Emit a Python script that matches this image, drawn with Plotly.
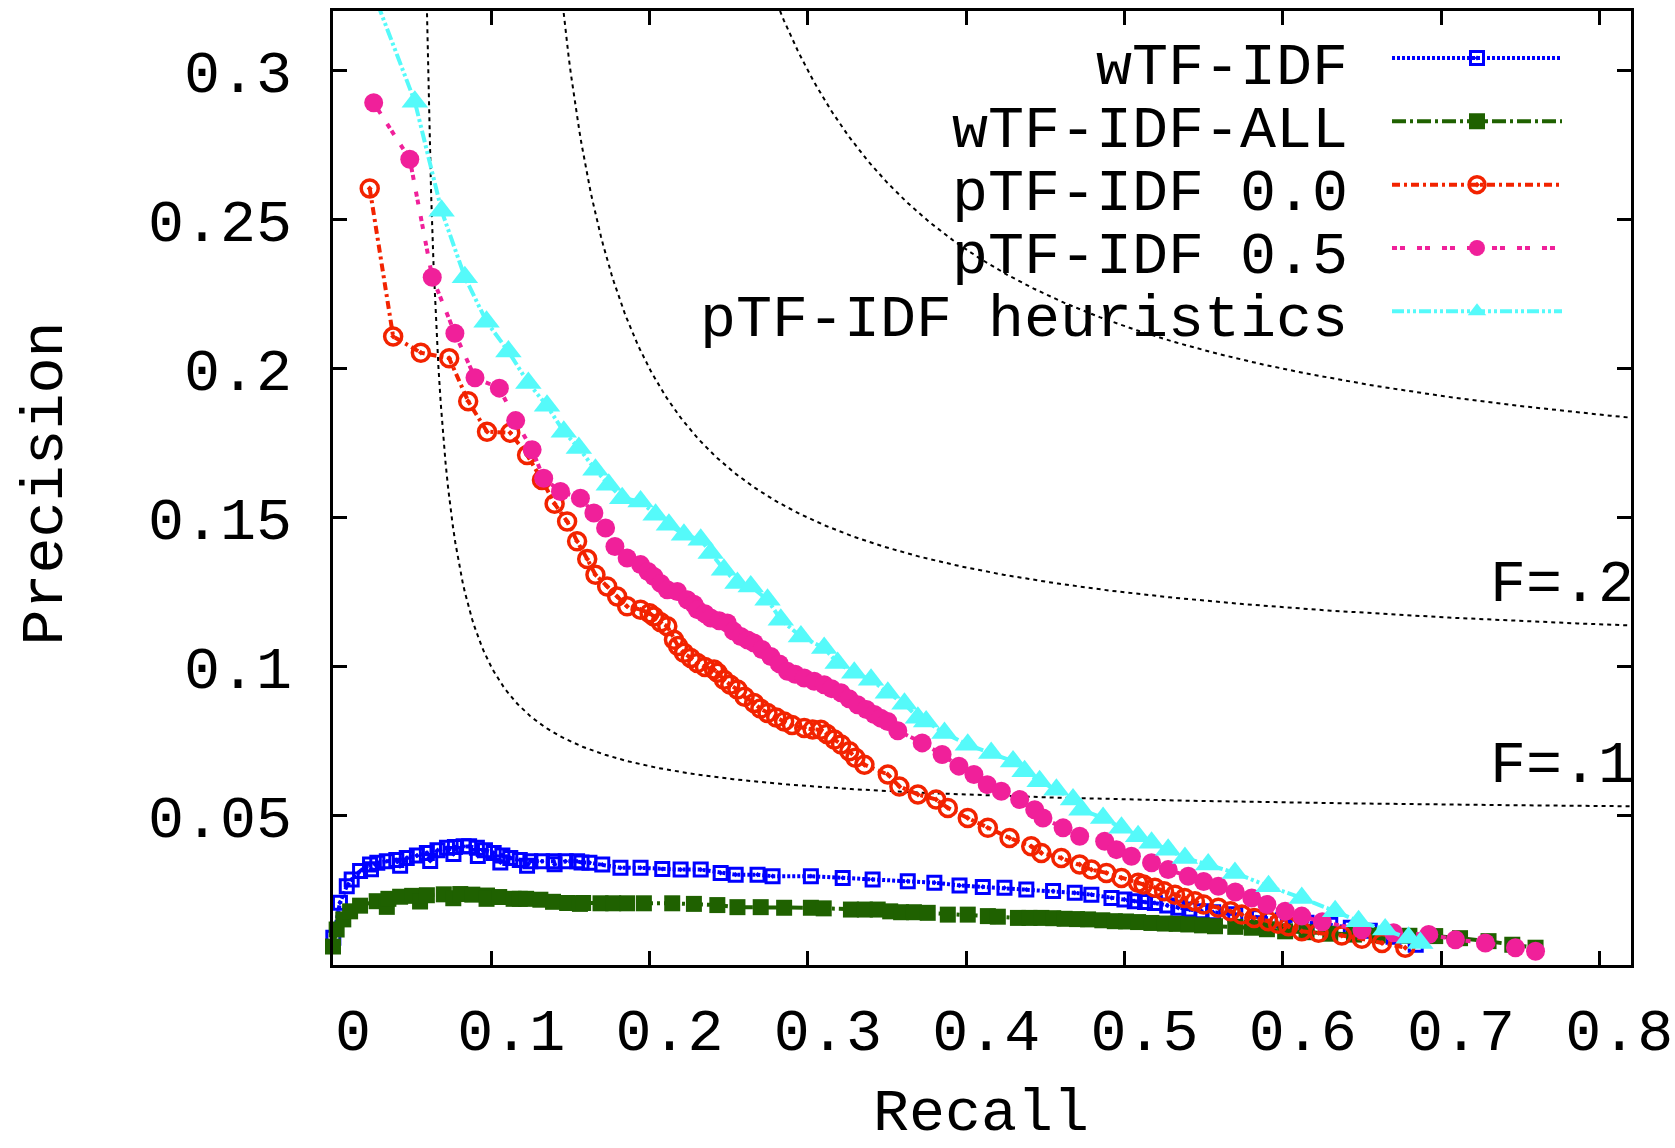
import numpy as np
import plotly.graph_objects as go

FONT = "Liberation Mono"

# ---------------- data ----------------
labels = ["wTF-IDF", "wTF-IDF-ALL", "pTF-IDF 0.0", "pTF-IDF 0.5", "pTF-IDF heuristics"]

recall_wtfidf = [0.0002, 0.0044, 0.0087, 0.0118, 0.0171, 0.0234, 0.024, 0.028, 0.034, 0.040, 0.0424,
                 0.0466, 0.053, 0.0593, 0.0614, 0.066, 0.072, 0.0761, 0.077, 0.0825, 0.086, 0.0909,
                 0.0915, 0.096, 0.1015, 0.1057, 0.107, 0.112, 0.118, 0.1226, 0.1247, 0.132, 0.1394,
                 0.140, 0.147, 0.1542, 0.157, 0.162, 0.1701, 0.1816, 0.1943, 0.208, 0.2196,
                 0.2323, 0.2449, 0.2544, 0.2682, 0.2777, 0.3019, 0.322, 0.3409, 0.3631, 0.3799, 0.3958,
                 0.4105, 0.4242, 0.438, 0.4549, 0.4686, 0.4791, 0.4918, 0.500, 0.5065, 0.513, 0.5192,
                 0.527, 0.534, 0.541, 0.5487, 0.556, 0.570, 0.585, 0.600, 0.615, 0.630, 0.643, 0.655,
                 0.670, 0.684]
prec_wtfidf = [0.0091, 0.0209, 0.0264, 0.0287, 0.0315, 0.0337, 0.0321, 0.0343, 0.0348, 0.0352, 0.0333,
               0.0359, 0.0367, 0.0376, 0.0349, 0.0385, 0.0393, 0.0372, 0.0396, 0.0398, 0.0398, 0.0393,
               0.0366, 0.0385, 0.0376, 0.0344, 0.0367, 0.0359, 0.0352, 0.0333, 0.0348, 0.0348, 0.0348,
               0.0338, 0.0348, 0.0348, 0.0344, 0.0343, 0.0337, 0.0326, 0.0326, 0.0322, 0.032,
               0.032, 0.0309, 0.0303, 0.0303, 0.0298, 0.0298, 0.0292, 0.0287, 0.0281, 0.0276, 0.0267,
               0.0262, 0.0259, 0.0253, 0.0248, 0.0242, 0.0236, 0.0225, 0.022, 0.0214, 0.0211, 0.0208,
               0.0200, 0.0192, 0.0186, 0.018, 0.0177, 0.017, 0.016, 0.015, 0.0142, 0.0135, 0.0125, 0.0115,
               0.0095, 0.0068]

recall_wtfidf_all = [0.0, 0.0023, 0.0065, 0.0108, 0.0171, 0.0276, 0.034, 0.035, 0.0424, 0.050, 0.055,
                     0.0593, 0.070, 0.076, 0.0804, 0.088, 0.0973, 0.097, 0.105, 0.1141, 0.118, 0.122,
                     0.131, 0.139, 0.1479, 0.156, 0.158, 0.169,
                     0.177, 0.1858, 0.1964, 0.2143, 0.228, 0.2428, 0.2555, 0.2702, 0.285, 0.3019, 0.310,
                     0.3272, 0.336, 0.3441, 0.352, 0.3589, 0.367, 0.3757, 0.3884, 0.401, 0.4137, 0.420,
                     0.4327, 0.440, 0.4475, 0.455, 0.4622, 0.470, 0.477, 0.486, 0.4939, 0.501, 0.5086,
                     0.517, 0.5255, 0.533, 0.5403, 0.549, 0.5572, 0.570, 0.5804, 0.590, 0.6015, 0.615,
                     0.630, 0.645, 0.660, 0.680, 0.6963, 0.712, 0.730, 0.745, 0.7597]
prec_wtfidf_all = [0.0062, 0.0119, 0.0153, 0.018, 0.0199, 0.0214, 0.0195, 0.0222, 0.0229, 0.0232, 0.0213,
                   0.0234, 0.0237, 0.0224, 0.0238, 0.0236, 0.0233, 0.0222, 0.0228, 0.0222, 0.0222, 0.0222,
                   0.0219, 0.0212, 0.0208, 0.0205, 0.0208, 0.0207,
                   0.0207, 0.0207, 0.0207, 0.0207, 0.0205, 0.0201, 0.0194, 0.0194, 0.0192, 0.0192, 0.019,
                   0.0186, 0.0186, 0.0186, 0.018, 0.0177, 0.0177, 0.0175, 0.0169, 0.0169, 0.0164, 0.0162,
                   0.0158, 0.0158, 0.0158, 0.0157, 0.0155, 0.0154, 0.0153, 0.015, 0.0147, 0.0146, 0.0144,
                   0.0141, 0.0139, 0.0138, 0.0136, 0.0133, 0.013, 0.0128, 0.0125, 0.012, 0.0113, 0.011,
                   0.0105, 0.0102, 0.0100, 0.0098, 0.0097, 0.009, 0.008, 0.0068, 0.0058]

recall_ptfidf_00 = [0.0232, 0.038, 0.0555, 0.0734, 0.0854, 0.0973, 0.112, 0.1226, 0.132, 0.14, 0.1479,
                    0.1542, 0.1606, 0.1658, 0.1732, 0.1795, 0.1858, 0.1943, 0.200, 0.2027, 0.207, 0.2112,
                    0.2154, 0.218, 0.2217, 0.226, 0.2302, 0.235, 0.2407, 0.243, 0.247, 0.251, 0.2555,
                    0.260, 0.266, 0.270, 0.2745, 0.280, 0.285, 0.290, 0.2977, 0.303, 0.3082, 0.312,
                    0.3167, 0.321, 0.3262, 0.330, 0.3357, 0.3505, 0.3578, 0.3695, 0.381, 0.3884, 0.401,
                    0.4137, 0.4274, 0.4411, 0.4475, 0.4601, 0.4717, 0.4791, 0.4886, 0.4981, 0.5086,
                    0.512, 0.5192, 0.525, 0.5319, 0.538, 0.5445, 0.550, 0.5593, 0.567, 0.5741, 0.582,
                    0.5909, 0.597, 0.6036, 0.612, 0.6226, 0.6373, 0.65, 0.6627, 0.6774]
prec_ptfidf_00 = [0.2605, 0.2108, 0.2054, 0.2035, 0.1891, 0.1789, 0.1785, 0.1711, 0.1627, 0.1547, 0.1488,
                  0.1421, 0.1362, 0.1309, 0.127, 0.1236, 0.1203, 0.1192, 0.118, 0.1169, 0.115, 0.1136,
                  0.1091, 0.107, 0.1047, 0.103, 0.1013, 0.100, 0.0991, 0.098, 0.0957, 0.094, 0.0924,
                  0.090, 0.0879, 0.086, 0.0845, 0.083, 0.0817, 0.0805, 0.0795, 0.079, 0.0789, 0.0775,
                  0.0756, 0.074, 0.0717, 0.0695, 0.0672, 0.0639, 0.0599, 0.0572, 0.0555, 0.0527, 0.0493,
                  0.046, 0.0426, 0.0398, 0.0376, 0.0359, 0.0337, 0.032, 0.0309, 0.0292, 0.0276,
                  0.027, 0.0259, 0.0247, 0.0236, 0.0225, 0.0214, 0.0203, 0.0192, 0.018, 0.0169, 0.0158,
                  0.0147, 0.0138, 0.013, 0.0113, 0.0108, 0.0099, 0.0088, 0.0074, 0.0058]

recall_ptfidf_05 = [0.0257, 0.0485, 0.0627, 0.077, 0.0897, 0.1051, 0.1154, 0.1258, 0.1331, 0.1437, 0.1563,
                    0.1648, 0.1722, 0.1781, 0.1858, 0.1943, 0.199, 0.2027, 0.207, 0.2112, 0.2175, 0.2238,
                    0.228, 0.2302, 0.235, 0.2386, 0.244, 0.2491, 0.253, 0.2576, 0.262, 0.266, 0.271,
                    0.2766, 0.282, 0.2871, 0.292, 0.2977, 0.304, 0.3103, 0.315, 0.3209, 0.326, 0.3314,
                    0.337, 0.342, 0.346, 0.3505, 0.3568, 0.3722, 0.3848, 0.3954, 0.4049, 0.4133, 0.4222,
                    0.4338, 0.4433, 0.4485, 0.4612, 0.4717, 0.4875, 0.4949, 0.5044, 0.5171, 0.5276,
                    0.5403, 0.550, 0.5593, 0.570, 0.5804, 0.590, 0.6015, 0.612, 0.625, 0.650, 0.670,
                    0.6922, 0.7091, 0.728, 0.747, 0.7597]
prec_ptfidf_05 = [0.2892, 0.2703, 0.2307, 0.2119, 0.197, 0.1935, 0.1826, 0.1728, 0.1633, 0.1588, 0.1566,
                  0.1516, 0.1466, 0.1404, 0.1365, 0.1343, 0.132, 0.1303, 0.128, 0.1259, 0.1253, 0.1225,
                  0.121, 0.1192, 0.1178, 0.1164, 0.1155, 0.1147, 0.112, 0.1102, 0.109, 0.108, 0.1058,
                  0.1035, 0.101, 0.0985, 0.0975, 0.0963, 0.0952, 0.094, 0.0927, 0.0913, 0.0893, 0.0873,
                  0.0857, 0.084, 0.0828, 0.0817, 0.0786, 0.0745, 0.0706, 0.0667, 0.0639, 0.0605, 0.0583,
                  0.0555, 0.0521, 0.0493, 0.046, 0.0432, 0.0415, 0.0387, 0.0365, 0.0343, 0.032,
                  0.0298, 0.028, 0.0264, 0.0245, 0.0225, 0.0203, 0.018, 0.0164, 0.0145, 0.0118, 0.0108,
                  0.0102, 0.0085, 0.0074, 0.0058, 0.0046]

recall_heuristics = [0.022, 0.0517, 0.0686, 0.0833, 0.097, 0.1108, 0.1234, 0.1352, 0.1458, 0.1553, 0.1658,
                     0.1742, 0.1827, 0.1943, 0.2038, 0.2122, 0.2217, 0.2323, 0.2386, 0.247, 0.2555, 0.2639,
                     0.2745, 0.2829, 0.2956, 0.3103, 0.3188, 0.3293, 0.3399, 0.3505, 0.361, 0.3695, 0.3747,
                     0.3863, 0.401, 0.4158, 0.4296, 0.4369, 0.4464, 0.457, 0.4675, 0.4728, 0.4865, 0.4981,
                     0.5086, 0.5171, 0.5276, 0.5382, 0.5529, 0.5698, 0.591, 0.612, 0.6331, 0.6479, 0.6647,
                     0.6795, 0.6869]
prec_heuristics = [0.331, 0.2896, 0.253, 0.2307, 0.2158, 0.2058, 0.1952, 0.1876, 0.1789, 0.1734, 0.1661,
                   0.1611, 0.1566, 0.1555, 0.151, 0.1477, 0.1443, 0.1426, 0.1382, 0.1326, 0.1281, 0.127,
                   0.1225, 0.1158, 0.1102, 0.1063, 0.1013, 0.098, 0.0957, 0.0913, 0.0876, 0.0829, 0.0817,
                   0.0778, 0.0739, 0.0711, 0.0683, 0.065, 0.0616, 0.0588, 0.0555, 0.0521, 0.0493, 0.046,
                   0.0432, 0.041, 0.0387, 0.0359, 0.0337, 0.0309, 0.0264, 0.0225, 0.018, 0.0147, 0.0119,
                   0.0091, 0.0074]

# F-measure iso-lines drawn in the background
f_levels = [0.1, 0.2, 0.3]
f_labels = ["F=.1", "F=.2"]

x_tickvals = [0, 0.1, 0.2, 0.3, 0.4, 0.5, 0.6, 0.7, 0.8]
x_ticktext = ["0", "0.1", "0.2", "0.3", "0.4", "0.5", "0.6", "0.7", "0.8"]
y_tickvals = [0.05, 0.1, 0.15, 0.2, 0.25, 0.3]
y_ticktext = ["0.05", "0.1", "0.15", "0.2", "0.25", "0.3"]

X_RANGE = [0, 0.82]
Y_RANGE = [0, 0.32]

# ---------------- figure ----------------
fig = go.Figure()

for f in f_levels:
    p_top = Y_RANGE[1] + 0.01
    r_start = p_top * f / (2 * p_top - f)
    r = np.linspace(r_start, X_RANGE[1], 500)
    p = f * r / (2 * r - f)
    fig.add_trace(go.Scatter(x=r, y=p, mode="lines", showlegend=False, hoverinfo="skip",
                             line=dict(color="black", width=2, dash="4px,4px")))

styles = [
    dict(r=recall_wtfidf, p=prec_wtfidf, color="#0000FF", symbol="square-open-dot", size=13,
         lw=3, dash="3px,2px", clip=False),
    dict(r=recall_wtfidf_all, p=prec_wtfidf_all, color="#1F6100", symbol="square", size=16,
         lw=0, dash="14px,4px,3px,4px", clip=False),
    dict(r=recall_ptfidf_00, p=prec_ptfidf_00, color="#F22300", symbol="circle-open-dot", size=17,
         lw=3.5, dash="8px,4px,3px,4px", clip=True),
    dict(r=recall_ptfidf_05, p=prec_ptfidf_05, color="#F0209A", symbol="circle", size=19,
         lw=0, dash="5px,3px,5px,12px", clip=True),
    dict(r=recall_heuristics, p=prec_heuristics, color="#55FAFA", symbol="triangle-up", size=23,
         lw=0, dash="12px,3px,3px,3px,3px,3px", clip=True),
]

for lab, s in zip(labels, styles):
    fig.add_trace(go.Scatter(
        x=s["r"], y=s["p"], mode="lines+markers", name="",
        hovertemplate=lab + "<br>Recall %{x}<br>Precision %{y}<extra></extra>",
        line=dict(color=s["color"], width=4, dash=s["dash"]),
        marker=dict(symbol=s["symbol"], size=s["size"], color=s["color"],
                    line=dict(color=s["color"], width=s["lw"])),
        cliponaxis=s["clip"],
    ))

# ---------------- layout ----------------
W, H = 1675, 1148
ML, MR, MT, MB = 333, 44, 11, 183
PW, PH = W - ML - MR, H - MT - MB


def px_to_paper_y(py):
    return 1 - (py - MT) / PH


def px_to_paper_x(px):
    return (px - ML) / PW


axis_common = dict(showline=True, linewidth=3, linecolor="black", mirror="ticks",
                   ticks="inside", ticklen=14, tickwidth=3, tickcolor="black",
                   showgrid=False, zeroline=False,
                   tickfont=dict(family=FONT, size=60, color="black"))

fig.update_xaxes(range=X_RANGE, tickmode="array", tickvals=x_tickvals, ticktext=x_ticktext,
                 ticklabelshift=20, ticklabelstandoff=10, **axis_common)
fig.update_yaxes(range=Y_RANGE, tickmode="array", tickvals=y_tickvals, ticktext=y_ticktext,
                 ticklabelstandoff=26, **axis_common)

annotations = []
# legend texts (right-aligned, gnuplot style key)
legend_first_row_px = 67.5
legend_row_step = 63.2
for i, lab in enumerate(labels):
    annotations.append(dict(text=lab, xref="paper", yref="paper",
                            x=px_to_paper_x(1350), y=px_to_paper_y(legend_first_row_px + i * legend_row_step),
                            xanchor="right", yanchor="middle", showarrow=False,
                            font=dict(family=FONT, size=60, color="black")))
# F labels
for lab, yv in zip(f_labels, [0.0669, 0.1273]):
    annotations.append(dict(text=lab, xref="x", yref="y", x=0.7296, y=yv,
                            xanchor="left", yanchor="middle", showarrow=False,
                            font=dict(family=FONT, size=60, color="black")))
# axis titles
annotations.append(dict(text="Precision", xref="paper", yref="paper", x=px_to_paper_x(46),
                        y=px_to_paper_y(483.5), textangle=-90, xanchor="center", yanchor="middle",
                        showarrow=False, font=dict(family=FONT, size=60, color="black")))
annotations.append(dict(text="Recall", xref="paper", yref="paper", x=px_to_paper_x(981),
                        y=px_to_paper_y(1114), xanchor="center", yanchor="middle",
                        showarrow=False, font=dict(family=FONT, size=60, color="black")))

LEG_FONT = 46.4
leg_item_h = 1.3 * LEG_FONT + 3
leg_top_px = 58 - 5 - leg_item_h / 2

fig.update_layout(
    width=W, height=H,
    margin=dict(l=ML, r=MR, t=MT, b=MB, autoexpand=False),
    paper_bgcolor="white", plot_bgcolor="white",
    showlegend=True,
    legend=dict(x=px_to_paper_x(1387), y=px_to_paper_y(leg_top_px), xanchor="left", yanchor="top",
                itemwidth=170, font=dict(family=FONT, size=LEG_FONT, color="black"),
                bgcolor="rgba(0,0,0,0)", borderwidth=0, traceorder="normal", tracegroupgap=0),
    annotations=annotations,
    font=dict(family=FONT, color="black"),
)

fig.write_html("out.html", config={"displayModeBar": False},
               post_script="document.body.style.margin='0px';document.body.style.overflow='hidden';")
